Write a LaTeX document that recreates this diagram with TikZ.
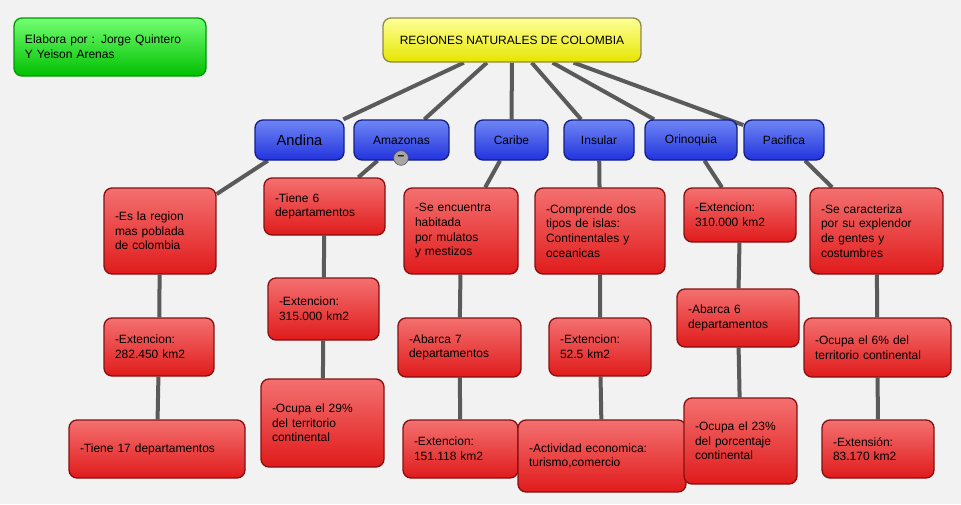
\documentclass[tikz,border=0pt]{standalone}
\usepackage{fontspec}
\setmainfont{Liberation Sans}
\usetikzlibrary{backgrounds}
\definecolor{bg}{HTML}{F2F2F2}
\definecolor{rd}{HTML}{E01B1B}
\definecolor{rdl}{HTML}{F47070}
\definecolor{bl}{HTML}{2233DD}
\definecolor{bll}{HTML}{6F86F5}
\definecolor{ln}{HTML}{5A5A5A}
\tikzset{
 box/.style={draw=#1!60!black,line width=1pt,rounded corners=6pt,align=left,font=\fontsize{9}{11}\selectfont,inner sep=0pt},
 rbox/.style={box=rd,top color=rdl,bottom color=rd},
 bbox/.style={box=bl,top color=bll,bottom color=bl,text=black,align=center},
 conn/.style={draw=ln,line width=3pt}
}
\newcommand\rb[7][rbox]{%
 \pgfmathsetmacro\mywd{(#5-#3)*0.75}\pgfmathsetmacro\myht{(#6-#4)*0.75}\pgfmathsetmacro\mytw{(#5-#3-22)*0.75}%
 \node[#1,minimum width=\mywd pt,minimum height=\myht pt,text width=\mytw pt] (#2) at ({(#3+#5)/2},{(#4+#6)/2}) {#7};}
\newcommand\bb[6]{%
 \pgfmathsetmacro\mywd{(#4-#2)*0.75}\pgfmathsetmacro\myht{(#5-#3)*0.75}%
 \node[bbox,minimum width=\mywd pt,minimum height=\myht pt] (#1) at ({(#2+#4)/2},{(#3+#5)/2}) {#6};}
\begin{document}
\begin{tikzpicture}[x=0.75pt,y=-0.75pt]
\useasboundingbox (0,0) rectangle (961,504);
\rb[box=green,top color=green!55!white,bottom color=green!75!black]{elab}{14}{18}{206}{76}{Elabora por : Jorge Quintero\\Y Yeison Arenas}
\node[bbox,top color=yellow!40!white,bottom color=yellow!90!black,draw=yellow!50!black,minimum width=193.5pt,minimum height=33pt] (title) at (512,40) {REGIONES NATURALES DE COLOMBIA};
\bb{andina}{255}{120}{344}{160}{\fontsize{11}{13}\selectfont Andina}
\bb{amaz}{354}{120}{449}{160}{Amazonas}
\bb{carib}{475}{120}{548}{160}{Caribe}
\bb{insul}{564}{120}{634}{160}{Insular}
\bb{orino}{645}{120}{737}{160}{Orinoquia}
\bb{pacif}{744}{120}{824}{160}{Pacifica}
\node[circle,draw=gray!60!black,fill=gray!70,inner sep=0pt,minimum size=11pt,font=\bfseries\fontsize{9}{9}\selectfont] (minus) at (401,158) {--};
\rb{a1}{104}{188}{216}{274}{-Es la region\\mas poblada\\de colombia}
\rb{a2}{104}{318}{214}{376}{-Extencion:\\282.450 km2}
\rb{a3}{69}{420}{245}{478}{-Tiene 17 departamentos}
\rb{m1}{264}{178}{385}{235}{-Tiene 6\\departamentos}
\rb{m2}{268}{278}{379}{340}{-Extencion:\\315.000 km2}
\rb{m3}{261}{379}{384}{467}{-Ocupa el 29\%\\del territorio\\continental}
\rb{c1}{404}{188}{518}{274}{-Se encuentra\\habitada\\por mulatos\\y mestizos}
\rb{c2}{398}{318}{521}{377}{-Abarca 7\\departamentos}
\rb{c3}{403}{420}{518}{478}{-Extencion:\\151.118 km2}
\rb{i1}{535}{188}{665}{274}{-Comprende dos\\tipos de islas:\\Continentales y\\oceanicas}
\rb{i2}{549}{318}{651}{376}{-Extencion:\\52.5 km2}
\rb{i3}{518}{420}{686}{492}{-Actividad economica:\\turismo,comercio}
\rb{o1}{684}{188}{796}{242}{-Extencion:\\310.000 km2}
\rb{o2}{677}{289}{799}{347}{-Abarca 6\\departamentos}
\rb{o3}{684}{398}{797}{484}{-Ocupa el 23\%\\del porcentaje\\continental}
\rb{p1}{810}{188}{943}{274}{-Se caracteriza\\por su explendor\\de gentes y\\costumbres}
\rb{p2}{804}{318}{951}{377}{-Ocupa el 6\% del\\territorio continental}
\rb{p3}{822}{420}{934}{478}{-Extensión:\\83.170 km2}
\begin{scope}[on background layer]
\fill[bg] (0,0) rectangle (961,504);
\foreach \b in {andina,amaz,carib,insul,orino,pacif} \draw[conn] (title) -- (\b);
\draw[conn] (andina) -- (a1) -- (a2) -- (a3);
\draw[conn] (amaz) -- (m1) -- (m2) -- (m3);
\draw[conn] (carib) -- (c1) -- (c2) -- (c3);
\draw[conn] (insul) -- (i1) -- (i2) -- (i3);
\draw[conn] (orino) -- (o1) -- (o2) -- (o3);
\draw[conn] (pacif) -- (p1) -- (p2) -- (p3);
\end{scope}
\end{tikzpicture}
\end{document}
